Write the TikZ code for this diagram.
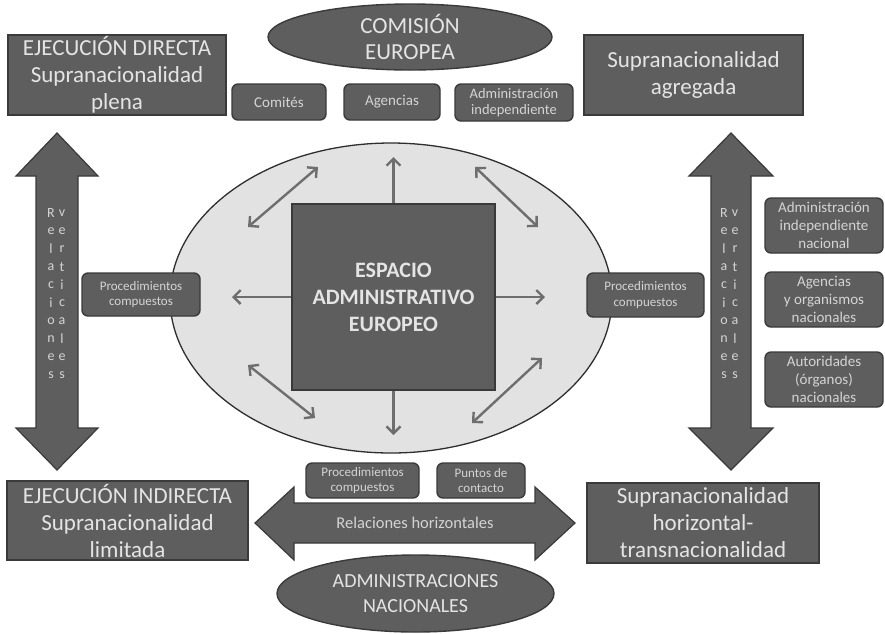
\documentclass[tikz,border=0pt]{standalone}
\usepackage{fontspec}
\setmainfont{Carlito}
\usetikzlibrary{arrows.meta,shapes.geometric}
\definecolor{boxfill}{HTML}{5E5E5E}
\definecolor{boxline}{HTML}{3A3A3A}
\definecolor{boxtext}{HTML}{E4E4E4}
\definecolor{smalltext}{HTML}{D4D4D4}
\definecolor{ellfill}{HTML}{E2E2E2}
\definecolor{ellline}{HTML}{2E2E2E}
\definecolor{arrowgray}{HTML}{6E6E6E}
\begin{document}
\begin{tikzpicture}[x=1pt,y=-1pt,
  bigbox/.style={draw=boxline, line width=1.5pt, fill=boxfill, text=boxtext, align=center,
    font=\fontsize{23}{27}\selectfont, inner sep=0pt},
  smallbox/.style={draw=boxline, line width=1.4pt, fill=boxfill, text=smalltext, rounded corners=6pt,
    align=center, inner sep=0pt},
  darkell/.style={ellipse, draw=boxline, line width=1.4pt, fill=boxfill, text=boxtext, align=center, inner sep=0pt},
  blockarrow/.style={draw=boxline, line width=1.2pt, fill=boxfill},
  inarrow/.style={draw=arrowgray, line width=2.4pt, -{Straight Barb[length=7pt,width=14pt]}},
  inarrow2/.style={draw=arrowgray, line width=2.4pt, {Straight Barb[length=7pt,width=14pt]}-{Straight Barb[length=7pt,width=14pt]}},
  vlet/.style={text=smalltext, font=\fontsize{14}{14}\selectfont, inner sep=0pt}]
\useasboundingbox[fill=white] (0,0) rectangle (885,633);

% big central ellipse
\node[ellipse, draw=ellline, line width=1.3pt, fill=ellfill, minimum width=442pt, minimum height=310pt] (space) at (391,298) {};

% vertical block arrows
\draw[blockarrow] (57,133) -- (98,176) -- (78,176) -- (78,428) -- (98,428) -- (57,470) -- (16,428) -- (36,428) -- (36,176) -- (16,176) -- cycle;
\draw[blockarrow] (731,133) -- (773,176) -- (751,176) -- (751,428) -- (773,428) -- (731,470) -- (689,428) -- (711,428) -- (711,176) -- (689,176) -- cycle;
\foreach \l [count=\i from 0] in {R,e,l,a,c,i,o,n,e,s} \node[vlet] (la\i) at (51,213+18*\i) {\l};
\foreach \l [count=\i from 0] in {v,e,r,t,i,c,a,l,e,s} \node[vlet] (lb\i) at (62,213+18*\i) {\l};
\foreach \l [count=\i from 0] in {R,e,l,a,c,i,o,n,e,s} \node[vlet] (ra\i) at (724,213+18*\i) {\l};
\foreach \l [count=\i from 0] in {v,e,r,t,i,c,a,l,e,s} \node[vlet] (rb\i) at (735,213+18*\i) {\l};

% horizontal block arrow
\draw[blockarrow] (255,523) -- (294,487) -- (294,503) -- (535,503) -- (535,487) -- (575,523) -- (535,560) -- (535,543) -- (294,543) -- (294,560) -- cycle;
\node[text=smalltext, font=\fontsize{16.5}{18}\selectfont] (hrel) at (415,523) {Relaciones horizontales};

% corner boxes
\node[bigbox, minimum width=218pt, minimum height=80pt] (ejdir) at (117,75) {EJECUCIÓN DIRECTA\\Supranacionalidad\\plena};
\node[bigbox, minimum width=219pt, minimum height=80pt] (supag) at (693.5,75) {Supranacionalidad\\agregada};
\node[bigbox, minimum width=241pt, minimum height=79pt] (ejind) at (127.5,520.5) {EJECUCIÓN INDIRECTA\\Supranacionalidad\\limitada};
\node[bigbox, minimum width=232pt, minimum height=80pt] (suphor) at (703,523) {Supranacionalidad\\horizontal-\\transnacionalidad};

% ellipses
\node[darkell, minimum width=284pt, minimum height=66pt, font=\fontsize{23}{26}\selectfont] (com) at (410,37) {COMISIÓN\\EUROPEA};
\node[darkell, minimum width=277pt, minimum height=77pt, font=\fontsize{20}{25}\selectfont] (adm) at (415.5,593.5) {ADMINISTRACIONES\\NACIONALES};

% small boxes top
\node[smallbox, minimum width=94pt, minimum height=36pt, font=\fontsize{15}{15}\selectfont] (comites) at (279,102) {Comités};
\node[smallbox, minimum width=96pt, minimum height=36pt, font=\fontsize{15}{15}\selectfont] (agencias) at (392,102) {Agencias};
\node[smallbox, minimum width=118pt, minimum height=37pt, font=\fontsize{14.5}{15.5}\selectfont] (adminind) at (514,102.5) {Administración\\independiente};

% procedimientos side boxes
\node[smallbox, minimum width=118pt, minimum height=43pt, font=\fontsize{13}{15.5}\selectfont] (procL) at (141,294.5) {Procedimientos\\compuestos};
\node[smallbox, minimum width=117pt, minimum height=44pt, font=\fontsize{13}{15.5}\selectfont] (procR) at (645.5,295) {Procedimientos\\compuestos};

% right national boxes
\node[smallbox, minimum width=118pt, minimum height=55pt, font=\fontsize{15}{18}\selectfont] (adminN) at (824,225.5) {Administración\\independiente\\nacional};
\node[smallbox, minimum width=118pt, minimum height=55pt, font=\fontsize{15}{18}\selectfont] (agN) at (824,299.5) {Agencias\\y organismos\\nacionales};
\node[smallbox, minimum width=118pt, minimum height=55pt, font=\fontsize{15}{18}\selectfont] (autN) at (824,379.5) {Autoridades\\(órganos)\\nacionales};

% bottom small boxes
\node[smallbox, minimum width=113pt, minimum height=35pt, font=\fontsize{13}{15}\selectfont] (procB) at (362.5,480.5) {Procedimientos\\compuestos};
\node[smallbox, minimum width=88pt, minimum height=35pt, font=\fontsize{13}{15}\selectfont] (puntos) at (481,480.5) {Puntos de\\contacto};

% central square
\node[draw=boxline, line width=1.5pt, fill=boxfill, text=boxtext, align=center, inner sep=0pt,
  minimum width=203pt, minimum height=186pt, font=\bfseries\fontsize{22}{27}\selectfont] (sq) at (393.5,297) {ESPACIO\\ADMINISTRATIVO\\EUROPEO};

% inner arrows
\coordinate (aup) at (393.5,157);
\coordinate (adown) at (393.5,435);
\coordinate (aleft) at (232,297);
\coordinate (aright) at (545,297);
\draw[inarrow] (sq.north) -- (aup);
\draw[inarrow] (sq.south) -- (adown);
\draw[inarrow] (sq.west) -- (aleft);
\draw[inarrow] (sq.east) -- (aright);
\coordinate (ul1) at (248,227); \coordinate (ul2) at (318,167);
\coordinate (ur1) at (475,167); \coordinate (ur2) at (538,227);
\coordinate (ll1) at (248,365); \coordinate (ll2) at (315,418);
\coordinate (lr1) at (542,358); \coordinate (lr2) at (472,423);
\draw[inarrow2] (ul1) -- (ul2);
\draw[inarrow2] (ur1) -- (ur2);
\draw[inarrow2] (ll1) -- (ll2);
\draw[inarrow2] (lr1) -- (lr2);
\end{tikzpicture}
\end{document}
